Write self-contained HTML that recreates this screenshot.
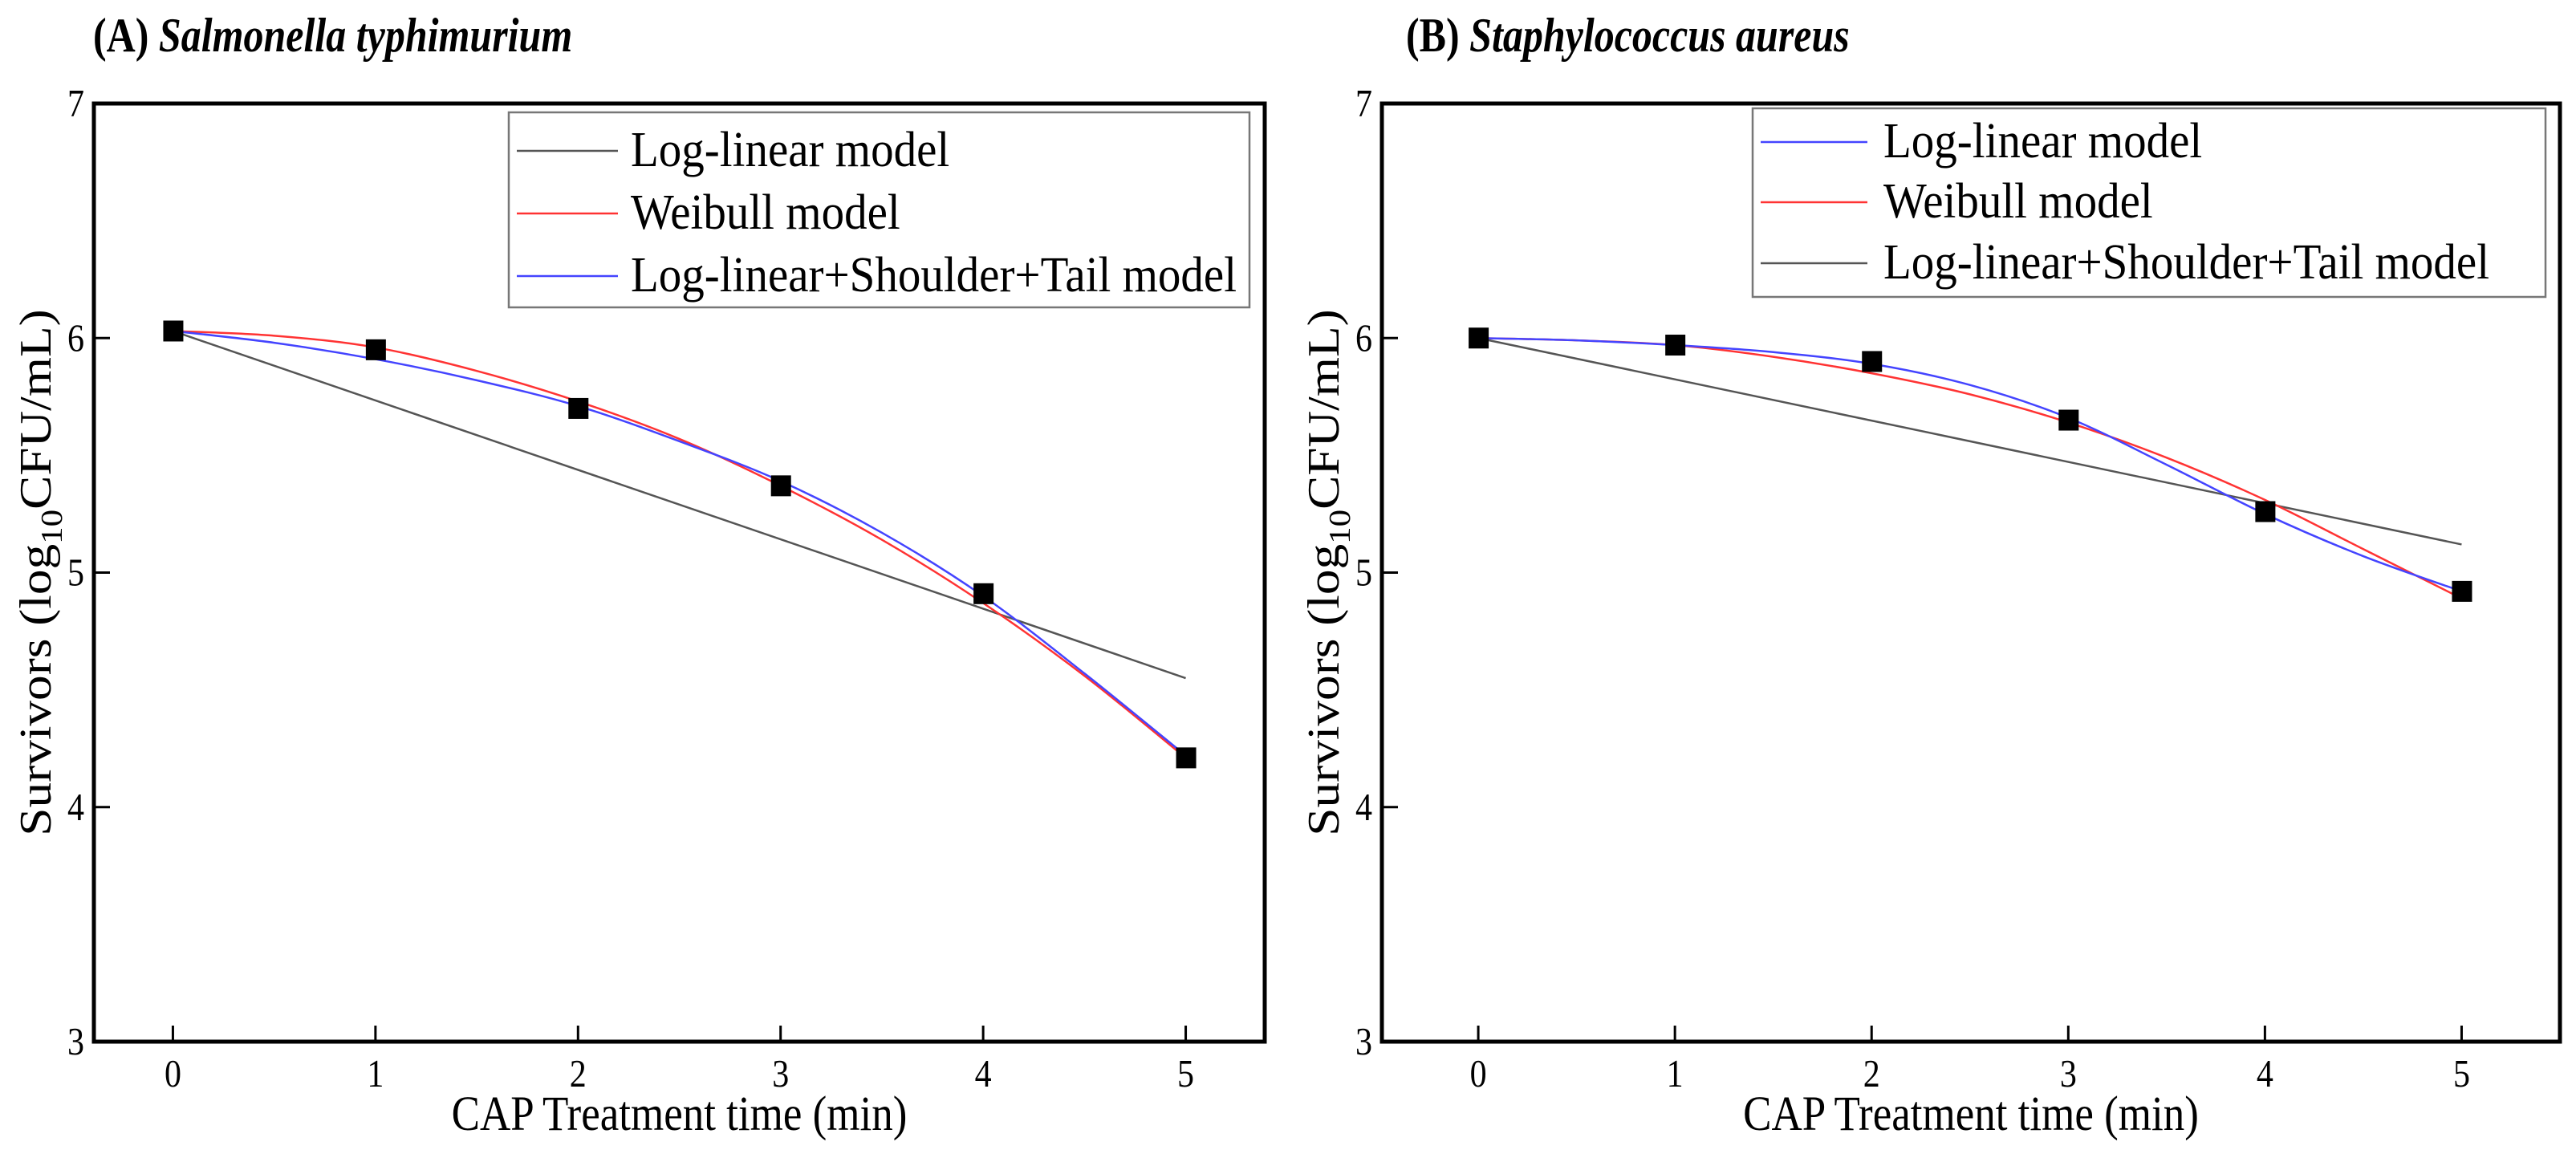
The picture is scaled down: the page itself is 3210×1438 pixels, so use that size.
<!DOCTYPE html>
<html><head><meta charset="utf-8"><style>
html,body{margin:0;padding:0;background:#fff;}
svg{display:block;font-family:"Liberation Serif",serif;}
</style></head><body>
<svg id="fig" width="3210" height="1438" viewBox="0 0 3210 1438" xmlns="http://www.w3.org/2000/svg"></svg>
<script>
const timesA=[0,1,2,3,4,5];
const obsA=[6.03,5.95,5.70,5.37,4.91,4.21];
const curveT=[0,0.5,1,1.5,2,2.5,3,3.5,4,4.5,5];
const linA=[6.03,4.55];
const weibA=[6.03,6.01,5.96,5.86,5.73,5.57,5.37,5.14,4.87,4.56,4.21];
const lstA=[6.03,5.98,5.91,5.82,5.71,5.56,5.39,5.17,4.90,4.57,4.22];
const obsB=[6.00,5.97,5.90,5.65,5.26,4.92];
const linB=[6.00,5.12];
const blueB=[6.00,5.99,5.97,5.94,5.89,5.80,5.66,5.46,5.25,5.07,4.92];
const redB=[6.00,5.99,5.97,5.92,5.85,5.76,5.64,5.49,5.31,5.10,4.89];
const xTicks=[0,1,2,3,4,5];
const yTicks=[3,4,5,6,7];

const NS="http://www.w3.org/2000/svg";
const svg=document.getElementById('fig');
function mk(tag,attrs,parent){const e=document.createElementNS(NS,tag);for(const k in attrs)e.setAttribute(k,attrs[k]);(parent||svg).appendChild(e);return e;}

function panel(o){
  const g=mk('g',{});
  
  
  const X=v=>o.L+(v-o.xmin)/(o.xmax-o.xmin)*(o.R-o.L);
  const Y=v=>o.B-(v-3)/4*(o.B-o.T);
  const t=mk('text',{x:0,y:0,'font-size':50,'font-weight':'bold',transform:`translate(${o.titleX},64) scale(1,1.2)`},g);
  
  
  const t1=mk('tspan',{},t);t1.textContent=o.label+' ';
  const t2=mk('tspan',{'font-style':'italic'},t);t2.textContent=o.species;
  const box=mk('rect',{x:o.L,y:o.T,width:o.R-o.L,height:o.B-o.T,fill:'none',stroke:'#000','stroke-width':5},g);
  
  
  xTicks.forEach(v=>{
    mk('line',{x1:X(v),x2:X(v),y1:o.B,y2:o.B-20,stroke:'#000','stroke-width':3},g);
    const l=mk('text',{x:0,y:0,'font-size':42,'text-anchor':'middle',transform:`translate(${X(v)},${o.B+56}) scale(1,1.15)`},g);
    
    
    l.textContent=v;
  });
  yTicks.forEach(v=>{
    mk('line',{x1:o.L,x2:o.L+20,y1:Y(v),y2:Y(v),stroke:'#000','stroke-width':3},g);
    const l=mk('text',{x:0,y:0,'font-size':42,'text-anchor':'end',transform:`translate(${o.L-12},${Y(v)+16}) scale(1,1.15)`},g);
    
    
    l.textContent=v;
  });
  const xt=mk('text',{x:0,y:0,'font-size':53,'text-anchor':'middle',transform:`translate(${(o.L+o.R)/2},1408) scale(1,1.15)`},g);
  
  
  xt.textContent='CAP Treatment time (min)';
  const yt=mk('text',{x:0,y:0,'font-size':56,'text-anchor':'middle',transform:`translate(${o.L-54},${(o.T+o.B)/2}) rotate(-90) scale(1.13,1)`},g);
  
  
  const a=mk('tspan',{},yt);a.textContent='Survivors (log';
  const b=mk('tspan',{'font-size':38,dy:14},yt);b.textContent='10';
  const c=mk('tspan',{dy:-14},yt);c.textContent='CFU/mL)';
  function smooth(ts,vs){
    const p=ts.map((t,i)=>[X(t),Y(vs[i])]);
    let d=`M${p[0][0]},${p[0][1]}`;
    for(let i=0;i<p.length-1;i++){
      const p0=p[Math.max(0,i-1)],p1=p[i],p2=p[i+1],p3=p[Math.min(p.length-1,i+2)];
      const c1=[p1[0]+(p2[0]-p0[0])/6,p1[1]+(p2[1]-p0[1])/6];
      const c2=[p2[0]-(p3[0]-p1[0])/6,p2[1]-(p3[1]-p1[1])/6];
      d+=` C${c1[0]},${c1[1]} ${c2[0]},${c2[1]} ${p2[0]},${p2[1]}`;
    }
    return d;
  }
  o.series.forEach(s=>{
    let d;
    if(s.vals.length===2) d=`M${X(0)},${Y(s.vals[0])} L${X(5)},${Y(s.vals[1])}`;
    else d=smooth(curveT,s.vals);
    const pth=mk('path',{d:d,fill:'none',stroke:s.color,'stroke-width':2.5},g);
    
    
  });
  o.obs.forEach((v,i)=>{
    const r=mk('rect',{x:X(timesA[i])-12,y:Y(v)-13,width:25,height:26,fill:'#000'},g);
    
    
  });
  const lg=mk('g',{},g);
  
  
  mk('rect',{x:o.leg.x,y:o.leg.y,width:o.leg.w,height:o.leg.h,fill:'#fff',stroke:'#777','stroke-width':2.5},lg);
  o.legend.forEach((e,i)=>{
    const yy=o.leg.rows[i];
    mk('line',{x1:o.leg.lx1,x2:o.leg.lx2,y1:yy,y2:yy,stroke:e.color,'stroke-width':2.5},lg);
    const tx=mk('text',{x:0,y:0,'font-size':57,transform:`translate(${o.leg.tx},${yy+19}) scale(1,1.1)`},lg);
    
    
    tx.textContent=e.text;
  });
}
panel({id:'salmonella',label:'(A)',species:'Salmonella typhimurium',titleX:116,
  L:117,R:1576,T:129,B:1298,xmin:-0.39,xmax:5.39,obs:obsA,
  series:[{name:'log-linear-line',vals:linA,color:'#555'},{name:'weibull-curve',vals:weibA,color:'#f33'},{name:'shoulder-tail-curve',vals:lstA,color:'#44f'}],
  leg:{x:634,y:140,w:923,h:243,rows:[188,266,344],lx1:644,lx2:770,tx:786},
  legend:[{text:'Log-linear model',color:'#555'},{text:'Weibull model',color:'#f33'},{text:'Log-linear+Shoulder+Tail model',color:'#44f'}]});
panel({id:'staphylococcus',label:'(B)',species:'Staphylococcus aureus',titleX:1752,
  L:1722,R:3190,T:129,B:1298,xmin:-0.49,xmax:5.5,obs:obsB,
  series:[{name:'log-linear-line',vals:linB,color:'#555'},{name:'weibull-curve',vals:redB,color:'#f33'},{name:'log-linear-curve-blue',vals:blueB,color:'#44f'}],
  leg:{x:2184,y:135,w:988,h:235,rows:[177,252,328],lx1:2194,lx2:2327,tx:2347},
  legend:[{text:'Log-linear model',color:'#44f'},{text:'Weibull model',color:'#f33'},{text:'Log-linear+Shoulder+Tail model',color:'#555'}]});
</script>
</body></html>
